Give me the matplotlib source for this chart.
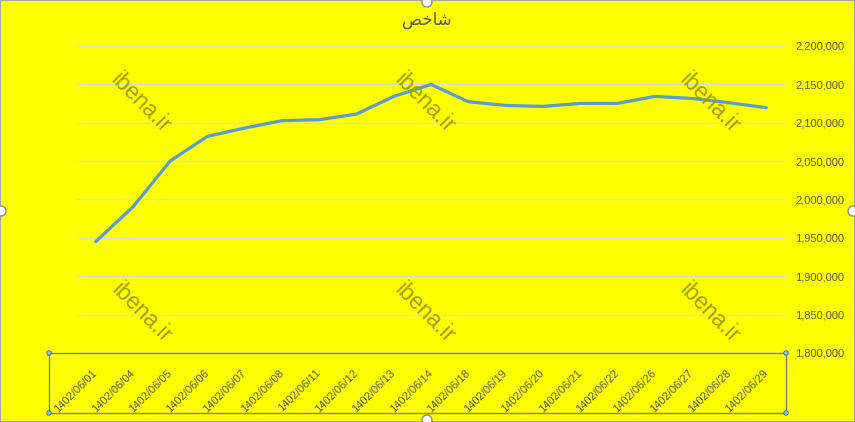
import matplotlib
matplotlib.use("Agg")
import matplotlib.pyplot as plt
from matplotlib.ticker import FuncFormatter
from matplotlib.patches import Rectangle, Circle

dates = ["1402/06/01", "1402/06/04", "1402/06/05", "1402/06/06", "1402/06/07",
         "1402/06/08", "1402/06/11", "1402/06/12", "1402/06/13", "1402/06/14",
         "1402/06/18", "1402/06/19", "1402/06/20", "1402/06/21", "1402/06/22",
         "1402/06/26", "1402/06/27", "1402/06/28", "1402/06/29"]
values = [1945000, 1990300, 2050100, 2082300, 2093100,
          2102700, 2104000, 2111300, 2134300, 2149900,
          2127400, 2122600, 2121300, 2125200, 2125200,
          2134300, 2131700, 2126100, 2119600]
title = "\uFEBA\uFEA7\uFE8E\uFEB7"  # شاخص (shaped, visual order)
watermark = "ibena.ir"

W, H = 855, 422
fig = plt.figure(figsize=(W / 100, H / 100), dpi=100)
fig.patch.set_facecolor("#ffff00")

left, right, top, bottom = 77, 785, 46, 353
ax = fig.add_axes([left / W, 1 - bottom / H, (right - left) / W, (bottom - top) / H])
ax.set_facecolor("#ffff00")

x = list(range(len(dates)))
ax.plot(x, values, color="#5b9bd5", lw=2.3, solid_capstyle="round", zorder=3)
ax.set_xlim(-0.5, len(dates) - 0.5)
ax.set_ylim(1800000, 2200000)
ax.set_yticks(range(1800000, 2200001, 50000))
ax.yaxis.set_major_formatter(FuncFormatter(lambda v, p: f"{int(v):,}"))
ax.yaxis.tick_right()
ax.grid(axis="y", color="#d9d9d9", lw=1.0, zorder=0)
for s in ax.spines.values():
    s.set_visible(False)
ax.tick_params(axis="y", length=0, pad=7.5, labelsize=8, labelcolor="#595959")
for t in ax.get_yticklabels():
    t.set_family("Liberation Sans")
ax.set_xticks(x)
ax.set_xticklabels(dates, rotation=45, ha="right", va="center",
                   rotation_mode="anchor", fontsize=8, color="#595959",
                   family="Liberation Sans")
ax.tick_params(axis="x", length=0, pad=13)

fig.text(427 / W, 1 - 20 / H, title, ha="center", va="center",
         fontsize=12, color="#595959", family="DejaVu Sans")

for (wx, wy) in [(141, 103), (425, 103), (710, 103), (142, 313), (425, 313), (710, 313)]:
    fig.text(wx / W, 1 - wy / H, watermark, ha="center", va="center",
             rotation=-45, fontsize=16.5, color="#a0a000", family="Liberation Sans",
             zorder=5)

# selection box around category labels
fig.patches.append(Rectangle((49 / W, 1 - 413 / H), (786 - 49) / W, 60 / H,
                             transform=fig.transFigure, fill=False,
                             ec="#7f7f7f", lw=1.0, zorder=6))
for (cx, cy) in [(49, 353), (786, 353), (49, 413), (786, 413)]:
    fig.patches.append(Circle((cx, H - cy), 2.2, transform=None,
                              fc="#9dc3e6", ec="#2e75b6", lw=0.7, zorder=7))
# outer border and handles
fig.patches.append(Rectangle((0, 0), 1, 1, transform=fig.transFigure, fill=False,
                             ec="#a6a6a6", lw=1.5, zorder=6))
for (cx, cy) in [(427, 2), (1, 211), (853, 211), (427, 420)]:
    fig.patches.append(Circle((cx, H - cy), 5, transform=None,
                              fc="white", ec="#8c8c8c", lw=1.0, zorder=7))

fig.savefig("out.png", dpi=100, facecolor=fig.get_facecolor())
